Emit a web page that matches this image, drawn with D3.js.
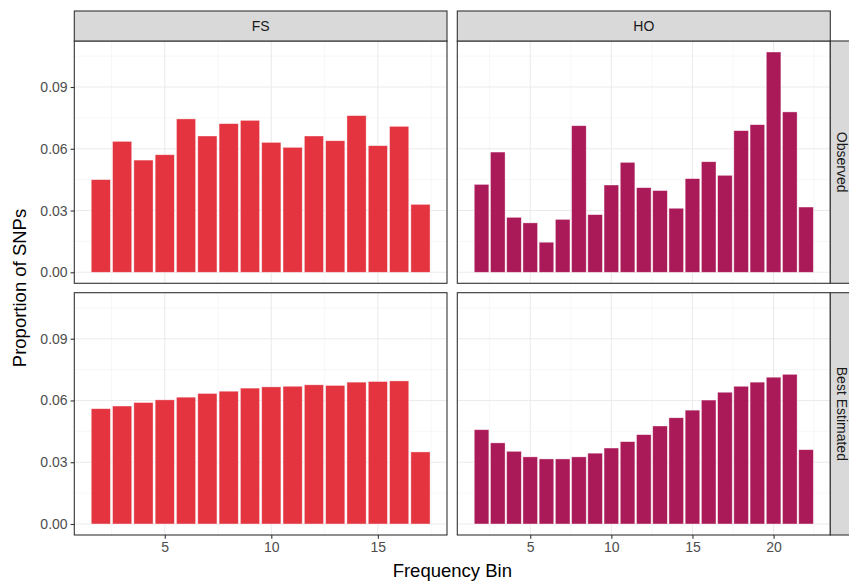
<!DOCTYPE html>
<html>
<head>
<meta charset="utf-8">
<script src="https://cdn.jsdelivr.net/npm/d3@7"></script>
<style>
  html, body { margin: 0; padding: 0; background: #ffffff; }
  svg { display: block; font-family: "Liberation Sans", Arial, sans-serif; }
</style>
</head>
<body>
<svg id="chart" width="849" height="582"></svg>
<script>
// ---- data ----
const panelsCols = ["FS", "HO"];
const panelsRows = ["Observed", "Best Estimated"];
const fsBins = [2, 3, 4, 5, 6, 7, 8, 9, 10, 11, 12, 13, 14, 15, 16, 17];
const hoBins = [2, 3, 4, 5, 6, 7, 8, 9, 10, 11, 12, 13, 14, 15, 16, 17, 18, 19, 20, 21, 22];
const fsObserved = [0.0450, 0.0636, 0.0545, 0.0571, 0.0745, 0.0662, 0.0722, 0.0738, 0.0631, 0.0607, 0.0662, 0.0639, 0.0761, 0.0615, 0.0709, 0.0330];
const fsEstimated = [0.0560, 0.0573, 0.0590, 0.0603, 0.0616, 0.0634, 0.0645, 0.0660, 0.0666, 0.0669, 0.0676, 0.0673, 0.0689, 0.0692, 0.0695, 0.0350];
const hoObserved = [0.0427, 0.0584, 0.0267, 0.0240, 0.0146, 0.0257, 0.0712, 0.0280, 0.0424, 0.0534, 0.0411, 0.0397, 0.0311, 0.0455, 0.0537, 0.0471, 0.0688, 0.0717, 0.1070, 0.0779, 0.0317];
const hoEstimated = [0.0458, 0.0394, 0.0353, 0.0326, 0.0316, 0.0316, 0.0326, 0.0344, 0.0369, 0.0400, 0.0434, 0.0476, 0.0516, 0.0553, 0.0602, 0.0640, 0.0669, 0.0689, 0.0713, 0.0727, 0.0361];
const yTicks = [0.00, 0.03, 0.06, 0.09];
const yMinorTicks = [0.015, 0.045, 0.075, 0.105];
const fsXTicks = [5, 10, 15];
const hoXTicks = [5, 10, 15, 20];
const fsXMinor = [2.5, 7.5, 12.5, 17.5];
const hoXMinor = [2.5, 7.5, 12.5, 17.5, 22.5];
const colFS = "#E3343F";
const colHO = "#AB1A58";

// ---- layout ----
const svg = d3.select("#chart");
const colX = [[74.3, 447], [457.3, 830.3]];
const rowY = [[41, 283.3], [292.7, 535]];
const stripTop = 11;
const stripW = 30;

const yMax = d3.max([...fsObserved, ...fsEstimated, ...hoObserved, ...hoEstimated]);
const yDomain = [-0.05 * yMax, 1.05 * yMax];

const barW = 0.9;
function xDomain(bins) {
  const lo = d3.min(bins) - barW / 2, hi = d3.max(bins) + barW / 2;
  const pad = (hi - lo) * 0.05;
  return [lo - pad, hi + pad];
}

const panels = [
  { c: 0, r: 0, bins: fsBins, vals: fsObserved, color: colFS, ticks: fsXTicks, minor: fsXMinor },
  { c: 1, r: 0, bins: hoBins, vals: hoObserved, color: colHO, ticks: hoXTicks, minor: hoXMinor },
  { c: 0, r: 1, bins: fsBins, vals: fsEstimated, color: colFS, ticks: fsXTicks, minor: fsXMinor },
  { c: 1, r: 1, bins: hoBins, vals: hoEstimated, color: colHO, ticks: hoXTicks, minor: hoXMinor }
];

panels.forEach(p => {
  const [x0, x1] = colX[p.c];
  const [y0, y1] = rowY[p.r];
  const x = d3.scaleLinear().domain(xDomain(p.bins)).range([x0, x1]);
  const y = d3.scaleLinear().domain(yDomain).range([y1, y0]);
  const g = svg.append("g");

  g.append("rect").attr("x", x0).attr("y", y0).attr("width", x1 - x0).attr("height", y1 - y0).attr("fill", "#ffffff");

  // minor grid
  g.selectAll(".ymin").data(yMinorTicks).enter().append("line")
    .attr("x1", x0).attr("x2", x1).attr("y1", d => y(d)).attr("y2", d => y(d))
    .attr("stroke", "#f2f2f2").attr("stroke-width", 0.6);
  g.selectAll(".xmin").data(p.minor.filter(d => x(d) > x0 && x(d) < x1)).enter().append("line")
    .attr("y1", y0).attr("y2", y1).attr("x1", d => x(d)).attr("x2", d => x(d))
    .attr("stroke", "#f2f2f2").attr("stroke-width", 0.6);
  // major grid
  g.selectAll(".ymaj").data(yTicks).enter().append("line")
    .attr("x1", x0).attr("x2", x1).attr("y1", d => y(d)).attr("y2", d => y(d))
    .attr("stroke", "#ebebeb").attr("stroke-width", 1.1);
  g.selectAll(".xmaj").data(p.ticks).enter().append("line")
    .attr("y1", y0).attr("y2", y1).attr("x1", d => x(d)).attr("x2", d => x(d))
    .attr("stroke", "#ebebeb").attr("stroke-width", 1.1);

  // bars
  const bw = x(barW) - x(0);
  g.selectAll(".bar").data(p.bins.map((b, i) => ({ b, v: p.vals[i] }))).enter().append("rect")
    .attr("x", d => x(d.b - barW / 2))
    .attr("y", d => y(d.v))
    .attr("width", bw)
    .attr("height", d => y(0) - y(d.v))
    .attr("fill", p.color)
    .attr("stroke", "#ffffff").attr("stroke-opacity", 0.55).attr("stroke-width", 0.7);

  // border
  g.append("rect").attr("x", x0).attr("y", y0).attr("width", x1 - x0).attr("height", y1 - y0)
    .attr("fill", "none").attr("stroke", "#333333").attr("stroke-width", 1.1);

  // y axis on left column
  if (p.c === 0) {
    const ax = svg.append("g").attr("transform", `translate(${x0},0)`)
      .call(d3.axisLeft(y).tickValues(yTicks).tickFormat(d3.format(".2f")).tickSize(3.7).tickPadding(3));
    ax.select(".domain").remove();
    ax.selectAll(".tick line").attr("stroke", "#333333").attr("stroke-width", 1.1);
    ax.selectAll(".tick text").attr("fill", "#4d4d4d").style("font-size", "14px").style("font-family", "Liberation Sans, Arial, sans-serif");
  }
  // x axis on bottom row
  if (p.r === 1) {
    const ax = svg.append("g").attr("transform", `translate(0,${y1})`)
      .call(d3.axisBottom(x).tickValues(p.ticks).tickFormat(d3.format("d")).tickSize(3.7).tickPadding(3));
    ax.select(".domain").remove();
    ax.selectAll(".tick line").attr("stroke", "#333333").attr("stroke-width", 1.1);
    ax.selectAll(".tick text").attr("fill", "#4d4d4d").style("font-size", "14px").style("font-family", "Liberation Sans, Arial, sans-serif");
  }
});

// top strips
panelsCols.forEach((name, c) => {
  const [x0, x1] = colX[c];
  svg.append("rect").attr("x", x0).attr("y", stripTop).attr("width", x1 - x0).attr("height", rowY[0][0] - stripTop)
    .attr("fill", "#d9d9d9").attr("stroke", "#333333").attr("stroke-width", 1.1);
  svg.append("text").attr("x", (x0 + x1) / 2).attr("y", (stripTop + rowY[0][0]) / 2)
    .attr("text-anchor", "middle").attr("dominant-baseline", "central")
    .attr("fill", "#1a1a1a").style("font-size", "14px").text(name);
});
// right strips
panelsRows.forEach((name, r) => {
  const [y0, y1] = rowY[r];
  const xs = colX[1][1];
  svg.append("rect").attr("x", xs).attr("y", y0).attr("width", stripW).attr("height", y1 - y0)
    .attr("fill", "#d9d9d9").attr("stroke", "#333333").attr("stroke-width", 1.1);
  const cx = 841.5, cy = (y0 + y1) / 2;
  svg.append("text").attr("transform", `translate(${cx},${cy}) rotate(90)`)
    .attr("text-anchor", "middle").attr("dominant-baseline", "central")
    .attr("fill", "#1a1a1a").style("font-size", "14px").text(name);
});

// axis titles
svg.append("text").attr("x", (colX[0][0] + colX[1][1]) / 2).attr("y", 576.5)
  .attr("text-anchor", "middle").attr("fill", "#000000").style("font-size", "18.5px").text("Frequency Bin");
svg.append("text").attr("transform", `translate(26,${(rowY[0][0] + rowY[1][1]) / 2}) rotate(-90)`)
  .attr("text-anchor", "middle").attr("fill", "#000000").style("font-size", "18.5px").text("Proportion of SNPs");
</script>
</body>
</html>
